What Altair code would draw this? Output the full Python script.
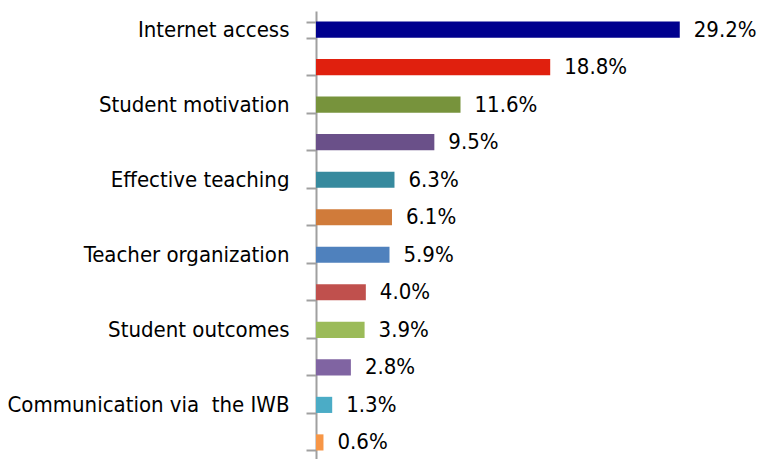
import altair as alt
import pandas as pd

labels = ["Internet access", "", "Student motivation", "", "Effective teaching", "",
          "Teacher organization", "", "Student outcomes", "", "Communication via\u00a0 the IWB", ""]
values = [29.2, 18.8, 11.6, 9.5, 6.3, 6.1, 5.9, 4.0, 3.9, 2.8, 1.3, 0.6]
colors = ["#00008E", "#E0200E", "#77933C", "#6A5089", "#378A9E", "#D07B3A",
          "#4F81BD", "#C0504D", "#9BBB59", "#8064A2", "#4BACC6", "#F79646"]

df = pd.DataFrame({
    "idx": list(range(len(values))),
    "value": values,
    "label": [f"{v:.1f}%" for v in values],
})

font = "DejaVu Sans Condensed"
label_expr = "[" + ",".join(f"'{l}'" for l in labels) + "][datum.value]"

y = alt.Y("idx:O", sort="ascending",
          scale=alt.Scale(paddingInner=0.57, paddingOuter=0.28),
          axis=alt.Axis(title=None, labelExpr=label_expr, labelFont=font, labelFontSize=22,
                        labelColor="#000000", labelPadding=17, tickSize=10, tickColor="#A0A0A0",
                        tickWidth=2, domainColor="#A0A0A0", domainWidth=2, tickBand="extent",
                        labelBound=False, labelOverlap=False, labelLimit=400))
x = alt.X("value:Q", scale=alt.Scale(domain=[0, 35.4], nice=False), axis=None)

bars = alt.Chart(df).mark_bar().encode(
    x=x, y=y,
    color=alt.Color("idx:O", scale=alt.Scale(domain=list(range(12)), range=colors), legend=None),
)
text = alt.Chart(df).mark_text(align="left", baseline="middle", dx=14, font=font, fontSize=22,
                               color="#000000").encode(x=x, y=y, text="label:N")

chart = (bars + text).properties(
    width=441, height=450,
    autosize=alt.AutoSizeParams(type="none"),
    padding={"left": 308, "top": 3, "right": 0, "bottom": 0},
).configure_view(stroke=None)

chart.save("out.html", embed_options={"renderer": "svg", "actions": False})
